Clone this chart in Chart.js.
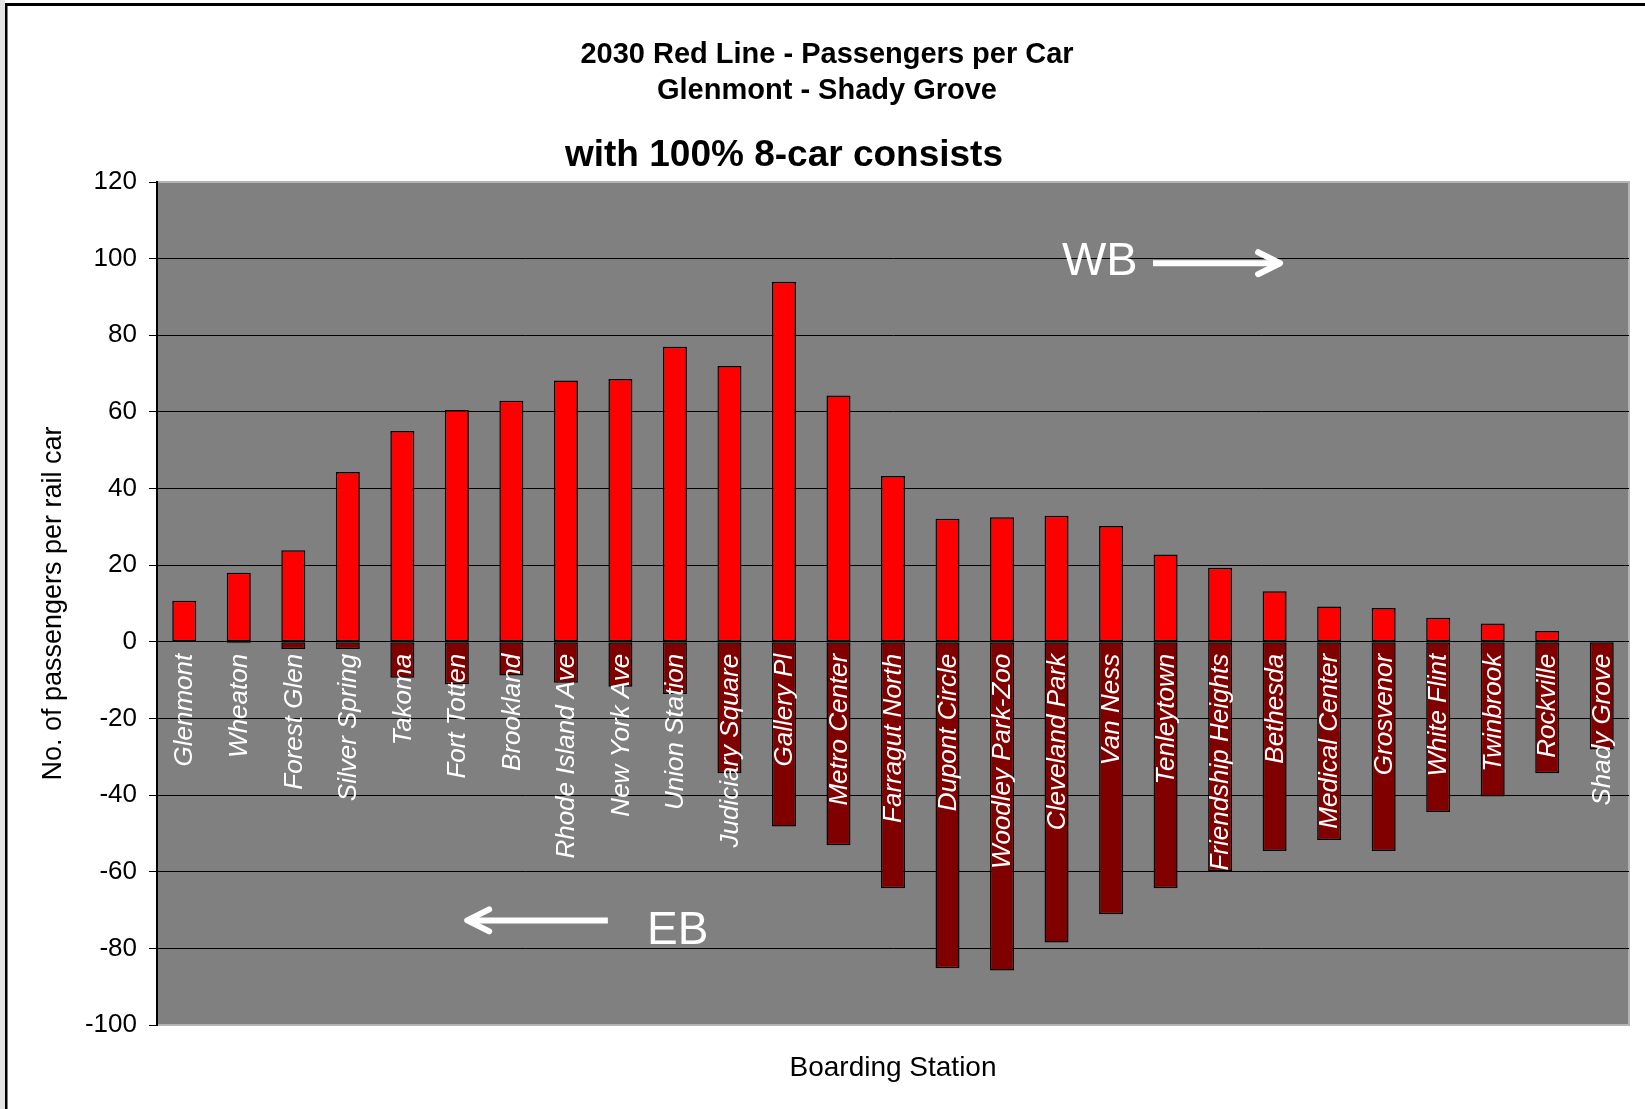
<!DOCTYPE html>
<html>
<head>
<meta charset="utf-8">
<title>2030 Red Line - Passengers per Car</title>
<script src="https://cdn.jsdelivr.net/npm/chart.js@4.4.1/dist/chart.umd.min.js"></script>
<style>
    html, body { margin: 0; padding: 0; background: #ffffff; }
    #railChart { display: block; }
</style>
</head>
<body>
<canvas id="railChart" width="1645" height="1109"></canvas>
<script>
// Boarding stations, Glenmont to Shady Grove
const stations = ['Glenmont', 'Wheaton', 'Forest Glen', 'Silver Spring', 'Takoma', 'Fort Totten',
    'Brookland', 'Rhode Island Ave', 'New York Ave', 'Union Station', 'Judiciary Square', 'Gallery Pl',
    'Metro Center', 'Farragut North', 'Dupont Circle', 'Woodley Park-Zoo', 'Cleveland Park', 'Van Ness',
    'Tenleytown', 'Friendship Heights', 'Bethesda', 'Medical Center', 'Grosvenor', 'White Flint',
    'Twinbrook', 'Rockville', 'Shady Grove'];

// westbound passengers per car (positive)
const westbound = [10.7, 18.0, 23.9, 44.3, 55.0, 60.5, 62.9, 68.2, 68.6, 77.0, 72.0, 94.0,
    64.3, 43.3, 32.1, 32.5, 32.9, 30.2, 22.8, 19.3, 13.2, 9.2, 8.8, 6.3, 4.8, 2.8, 0];

// eastbound passengers per car (drawn negative)
const eastbound = [0, -0.4, -1.9, -1.9, -9.4, -11.1, -8.8, -10.7, -11.7, -13.6, -34.3, -48.2,
    -53.1, -64.3, -85.2, -85.8, -78.5, -71.1, -64.3, -59.9, -54.6, -51.7, -54.6, -44.4, -40.4, -34.3, -28.1];

// y axis range
const yMin = -100;
const yMax = 120;
const yStep = 20;

const titleLines = ['2030 Red Line - Passengers per Car', 'Glenmont - Shady Grove'];
const subTitle = 'with 100% 8-car consists';

const FONT = '"Liberation Sans", Arial, Helvetica, sans-serif';

// page frame, plot background and the rotated station names
const railDecor = {
    id: 'railDecor',
    beforeDraw: function(chart) {
        const ctx = chart.ctx;
        const a = chart.chartArea;
        ctx.save();
        ctx.fillStyle = '#ffffff';
        ctx.fillRect(0, 0, chart.width, chart.height);
        ctx.fillStyle = '#e4e4e4';
        ctx.fillRect(0, 0, 5, chart.height);
        ctx.fillStyle = '#000000';
        ctx.fillRect(5, 3, chart.width - 5, 3);
        ctx.fillRect(5, 3, 2.5, chart.height - 3);

        ctx.fillStyle = '#808080';
        ctx.fillRect(a.left, a.top, a.right - a.left, a.bottom - a.top);
        ctx.strokeStyle = '#b4b4b4';
        ctx.lineWidth = 2;
        ctx.beginPath();
        ctx.moveTo(a.left, a.top);
        ctx.lineTo(a.right, a.top);
        ctx.lineTo(a.right, a.bottom);
        ctx.lineTo(a.left, a.bottom);
        ctx.stroke();

        // titles
        ctx.fillStyle = '#000000';
        ctx.textAlign = 'center';
        ctx.textBaseline = 'alphabetic';
        ctx.font = 'bold 29px ' + FONT;
        ctx.fillText(titleLines[0], 827, 63);
        ctx.fillText(titleLines[1], 827, 99);
        ctx.font = 'bold 37px ' + FONT;
        ctx.fillText(subTitle, 784, 166);
        ctx.restore();
    },
    afterDatasetsDraw: function(chart) {
        const ctx = chart.ctx;
        const x = chart.scales.x;
        const y = chart.scales.y;
        const zero = y.getPixelForValue(0);
        ctx.save();
        ctx.fillStyle = '#ffffff';
        ctx.font = 'italic 26px ' + FONT;
        ctx.textAlign = 'right';
        ctx.textBaseline = 'middle';
        stations.forEach(function(name, i) {
            ctx.save();
            ctx.translate(x.getPixelForValue(i) + 1, zero + 12);
            ctx.rotate(-Math.PI / 2);
            ctx.fillText(name, 0, 0);
            ctx.restore();
        });

        // direction markers
        ctx.strokeStyle = '#ffffff';
        ctx.lineWidth = 6;
        ctx.textAlign = 'left';
        ctx.textBaseline = 'alphabetic';
        ctx.font = '47px ' + FONT;
        ctx.fillText('WB', x.getPixelForValue(16.1), y.getPixelForValue(95.8));
        ctx.font = '46px ' + FONT;
        ctx.fillText('EB', x.getPixelForValue(8.49), y.getPixelForValue(-78.9));

        function arrow(fromIdx, toIdx, val) {
            const x1 = x.getPixelForValue(fromIdx);
            const x2 = x.getPixelForValue(toIdx);
            const yy = y.getPixelForValue(val);
            const dir = x2 > x1 ? 1 : -1;
            ctx.lineCap = 'butt';
            ctx.beginPath();
            ctx.moveTo(x1, yy);
            ctx.lineTo(x2 - dir * 3, yy);
            ctx.stroke();
            ctx.lineCap = 'round';
            ctx.lineJoin = 'round';
            ctx.beginPath();
            ctx.moveTo(x2 - dir * 22, yy - 11);
            ctx.lineTo(x2, yy);
            ctx.lineTo(x2 - dir * 22, yy + 11);
            ctx.stroke();
        }
        arrow(17.77, 20.1, 98.8);
        arrow(7.77, 5.19, -72.7);
        ctx.restore();
    }
};

function edgeColor(ctx) {
    if (ctx.tick && (ctx.tick.value === yMax || ctx.tick.value === yMin)) {
        return '#b4b4b4';
    }
    return '#000000';
}

var chart = new Chart(document.getElementById('railChart').getContext('2d'), {
    type: 'bar',
    data: {
        labels: stations,
        datasets: [{
            label: 'WB',
            data: westbound,
            backgroundColor: '#ff0000',
            borderColor: '#000000',
            borderWidth: 1.5,
            borderSkipped: false
        }, {
            label: 'EB',
            data: eastbound,
            backgroundColor: '#800000',
            borderColor: '#000000',
            borderWidth: 1.5,
            borderSkipped: false
        }]
    },
    options: {
        responsive: false,
        animation: false,
        layout: {
            padding: { left: 30, right: 16, top: 182, bottom: 0 }
        },
        datasets: {
            bar: { categoryPercentage: 1, barPercentage: 0.44 }
        },
        plugins: {
            legend: { display: false },
            tooltip: { enabled: false },
            title: { display: false }
        },
        scales: {
            x: {
                stacked: true,
                ticks: { display: false },
                grid: { display: false },
                border: { display: false },
                title: {
                    display: true,
                    text: 'Boarding Station',
                    color: '#000000',
                    font: { family: FONT, size: 28 },
                    padding: { top: 0, bottom: 24 }
                },
                afterFit: function(scale) { scale.height = 84; }
            },
            y: {
                stacked: true,
                min: yMin,
                max: yMax,
                ticks: {
                    stepSize: yStep,
                    color: '#000000',
                    padding: 12,
                    font: { family: FONT, size: 26 }
                },
                grid: {
                    color: edgeColor,
                    tickColor: '#000000',
                    tickLength: 8,
                    lineWidth: 1
                },
                border: { color: '#000000', width: 2 },
                title: {
                    display: true,
                    text: 'No. of passengers per rail car',
                    color: '#000000',
                    font: { family: FONT, size: 27 },
                    padding: { top: 7, bottom: 0 }
                },
                afterFit: function(scale) { scale.width = 127; }
            }
        }
    },
    plugins: [railDecor]
});
</script>
</body>
</html>
